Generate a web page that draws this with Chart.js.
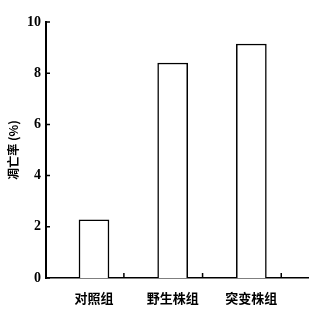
<!DOCTYPE html>
<html>
<head>
<meta charset="utf-8">
<script src="https://cdn.jsdelivr.net/npm/chart.js@4"></script>
<style>
    html, body { margin: 0; padding: 0; background: #fff; }
    #wrap { width: 322px; height: 309px; }
</style>
</head>
<body>
<div id="wrap"><canvas id="rateChart" width="322" height="309"></canvas></div>
<script>
// Data
const categories = ['对照组', '野生株组', '突变株组'];
const apoptosisRate = [2.27, 8.4, 9.14];
const yTicks = [0, 2, 4, 6, 8, 10];
// small marks on the x axis sit a bit right of each bar
const xMarks = [1.38, 2.38, 3.38];

// Inward tick marks on both axes
const axisMarks = {
    id: 'axisMarks',
    afterDraw(chart) {
        const ctx = chart.ctx;
        const xs = chart.scales.x, ys = chart.scales.y;
        ctx.save();
        ctx.strokeStyle = '#000';
        ctx.lineWidth = 1.5;
        ctx.beginPath();
        yTicks.forEach(v => {
            const py = ys.getPixelForValue(v);
            ctx.moveTo(xs.left, py);
            ctx.lineTo(xs.left + 4, py);
        });
        xMarks.forEach(v => {
            const px = xs.getPixelForValue(v);
            ctx.moveTo(px, ys.bottom);
            ctx.lineTo(px, ys.bottom - 5);
        });
        ctx.stroke();
        ctx.restore();
    }
};

const ctx = document.getElementById('rateChart').getContext('2d');
new Chart(ctx, {
    type: 'bar',
    data: {
        datasets: [{
            data: apoptosisRate.map((v, i) => ({ x: i + 1, y: v })),
            backgroundColor: '#fff',
            borderColor: '#000',
            borderWidth: 1.5,
            barThickness: 30
        }]
    },
    options: {
        responsive: false,
        animation: false,
        layout: { padding: { top: 22, right: 14, left: 0, bottom: 0 } },
        plugins: {
            legend: { display: false },
            tooltip: { enabled: false }
        },
        scales: {
            x: {
                type: 'linear',
                min: 0.39,
                max: 3.72,
                offset: false,
                afterBuildTicks: scale => { scale.ticks = categories.map((c, i) => ({ value: i + 1 })); },
                afterFit: scale => { scale.height = 31; },
                grid: { display: false, drawTicks: false, offset: false },
                border: { display: true, color: '#000', width: 1.5 },
                ticks: {
                    callback: v => categories[v - 1],
                    autoSkip: false,
                    maxRotation: 0,
                    padding: 12,
                    color: '#000',
                    font: { family: 'Noto Sans CJK SC', size: 13, weight: 'bold' }
                }
            },
            y: {
                min: 0,
                max: 10,
                afterBuildTicks: scale => { scale.ticks = yTicks.map(v => ({ value: v })); },
                afterFit: scale => { scale.width = 46; },
                grid: { display: false, drawTicks: false },
                border: { display: true, color: '#000', width: 2 },
                ticks: {
                    padding: 5,
                    color: '#000',
                    font: { family: 'Liberation Serif', size: 14, weight: 'bold' }
                },
                title: {
                    display: true,
                    text: '凋亡率 (%)',
                    color: '#000',
                    padding: { top: 6, bottom: 0 },
                    font: { family: 'Noto Sans CJK SC', size: 12, weight: 'bold' }
                }
            }
        }
    },
    plugins: [axisMarks]
});
</script>
</body>
</html>
